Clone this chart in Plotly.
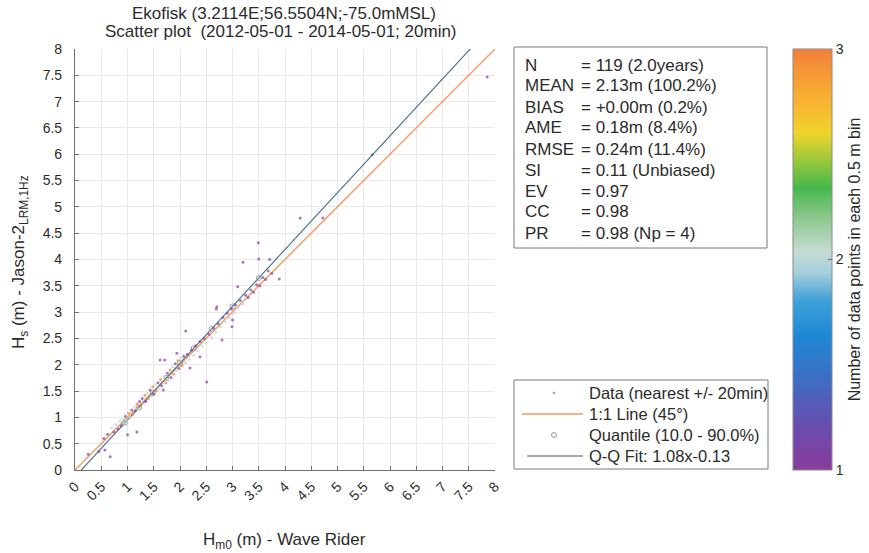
import plotly.graph_objects as go

# Observed (wave rider) and model (Jason-2) significant wave heights [m]
hm0_buoy = [
    0.25, 0.45, 0.57, 0.67, 1.00, 1.18, 2.51, 1.62, 1.71, 1.94, 2.11, 2.80, 2.19, 2.38,
    2.99, 3.00, 2.70, 2.69, 3.10, 3.20, 3.49, 3.50, 3.71, 3.89, 4.29, 4.72, 5.66, 7.85,
    0.55, 0.62, 0.70, 0.74, 0.78, 0.82, 0.85, 0.88, 0.90, 0.93, 0.96, 0.98, 1.02, 1.05,
    1.08, 1.10, 1.13, 1.15, 1.18, 1.20, 1.23, 1.25, 1.28, 1.30, 1.33, 1.35, 1.38, 1.40,
    1.43, 1.45, 1.48, 1.50, 1.53, 1.55, 1.58, 1.60, 1.63, 1.65, 1.68, 1.70, 1.73, 1.76,
    1.78, 1.81, 1.83, 1.86, 1.88, 1.91, 1.93, 1.96, 1.98, 2.01, 2.04, 2.07, 2.10, 2.14,
    2.18, 2.22, 2.26, 2.30, 2.34, 2.38, 2.42, 2.46, 2.50, 2.55, 2.60, 2.64, 2.68, 2.73,
    2.77, 2.82, 2.86, 2.90, 2.94, 2.98, 3.02, 3.06, 3.10, 3.15, 3.20, 3.25, 3.30, 3.35,
    3.40, 3.46, 3.52, 3.58, 3.63, 3.68, 3.75,
]
hs_jason = [
    0.30, 0.35, 0.38, 0.25, 0.67, 0.72, 1.67, 2.09, 2.09, 2.22, 2.64, 2.47, 1.94, 2.15,
    2.72, 2.85, 3.10, 3.06, 3.48, 3.95, 4.32, 4.01, 4.00, 3.63, 4.79, 4.79, 5.99, 7.47,
    0.60, 0.68, 0.80, 0.72, 0.86, 0.78, 0.92, 0.84, 0.97, 0.90, 1.02, 0.94, 1.08, 1.00,
    1.14, 1.05, 1.20, 1.12, 1.26, 1.16, 1.30, 1.22, 1.36, 1.26, 1.42, 1.30, 1.46, 1.36,
    1.52, 1.40, 1.58, 1.44, 1.62, 1.50, 1.66, 1.55, 1.72, 1.60, 1.52, 1.78, 1.66, 1.84,
    1.70, 1.90, 1.76, 1.96, 1.82, 2.02, 1.88, 2.08, 1.93, 2.12, 1.98, 2.16, 2.04, 2.20,
    2.10, 2.28, 2.18, 2.36, 2.26, 2.44, 2.36, 2.50, 2.42, 2.58, 2.52, 2.70, 2.62, 2.78,
    2.72, 2.90, 2.82, 2.98, 2.90, 3.06, 2.98, 3.14, 3.08, 3.22, 3.16, 3.32, 3.28, 3.42,
    3.38, 3.52, 3.50, 3.66, 3.62, 3.78, 3.74,
]
# Number of data points in each 0.5 m bin (colour value per point)
bin_count = [
    1, 1, 1, 1, 1, 1, 1, 1, 1, 1, 1, 1, 1, 1,
    1, 1, 1, 1, 1, 1, 1, 1, 1, 1, 1, 1, 1, 1,
    1, 1, 2, 1, 2, 1, 2, 1, 2, 2, 1, 2, 3, 2,
    1, 3, 2, 1, 3, 2, 1, 3, 1, 2, 3, 1, 2, 3,
    1, 2, 3, 1, 2, 3, 1, 2, 3, 1, 1, 2, 3, 1,
    2, 3, 1, 2, 3, 1, 2, 3, 1, 2, 3, 1, 2, 1,
    2, 1, 2, 1, 2, 1, 2, 1, 2, 1, 2, 1, 2, 1,
    2, 1, 2, 1, 2, 1, 2, 1, 2, 1, 2, 1, 1, 1,
    1, 1, 1, 1, 1, 1, 1,
]

# Quantiles 10 % .. 90 %
q_buoy = [0.95, 1.22, 1.48, 1.74, 2.00, 2.26, 2.60, 3.00, 3.50]
q_jason = [0.90, 1.19, 1.47, 1.75, 2.03, 2.31, 2.68, 3.11, 3.65]

# Q-Q fit parameters
qq_slope = 1.08
qq_offset = -0.13

stats_labels = ["N", "MEAN", "BIAS", "AME", "RMSE", "SI", "EV", "CC", "PR"]
stats_values = [
    "= 119 (2.0years)", "= 2.13m (100.2%)", "= +0.00m (0.2%)", "= 0.18m (8.4%)",
    "= 0.24m (11.4%)", "= 0.11 (Unbiased)", "= 0.97", "= 0.98", "= 0.98 (Np = 4)",
]
legend_labels = ["Data (nearest +/- 20min)", "1:1 Line (45°)",
                 "Quantile (10.0 - 90.0%)", "Q-Q Fit: 1.08x-0.13"]

tick_vals = [i * 0.5 for i in range(17)]
tick_text = ["0", "0.5", "1", "1.5", "2", "2.5", "3", "3.5", "4", "4.5",
             "5", "5.5", "6", "6.5", "7", "7.5", "8"]

W, H = 869, 553
L, R, T, B = 75, 495, 49, 470          # plot area in pixels
PW, PH = R - L, B - T
FONT = "Liberation Sans, Arial, sans-serif"
TXT = "#2b2b2b"
ORANGE = "#f29b62"
QQ = "#4d7890"

def px(x):
    return (x - L) / PW

def py(y):
    return (B - y) / PH

colorscale = [
    [0.00, "#8a3c9c"], [0.10, "#6a4cae"], [0.22, "#3c6fc4"], [0.32, "#1e88d4"],
    [0.40, "#3da0d8"], [0.47, "#a6cfdc"], [0.52, "#c6dcd4"], [0.60, "#8cc78c"],
    [0.67, "#45b84b"], [0.74, "#a0c93a"], [0.80, "#f0d42a"], [0.88, "#f8b132"],
    [1.00, "#f2803a"],
]

fig = go.Figure()

# 1:1 line
fig.add_trace(go.Scatter(x=[0, 8], y=[0, 8], mode="lines",
                         line=dict(color=ORANGE, width=1.4), showlegend=False,
                         hoverinfo="skip"))
# Q-Q fit line
fit_x = [0, 8]
fit_y = [qq_slope * v + qq_offset for v in fit_x]
fig.add_trace(go.Scatter(x=fit_x, y=fit_y, mode="lines",
                         line=dict(color=QQ, width=1.2), showlegend=False,
                         hoverinfo="skip"))
# Quantiles
fig.add_trace(go.Scatter(x=q_buoy, y=q_jason, mode="markers",
                         marker=dict(symbol="circle-open", size=5, color="#9a9a9a",
                                     line=dict(width=1)),
                         showlegend=False))
# Data points coloured by bin count
fig.add_trace(go.Scatter(
    x=hm0_buoy, y=hs_jason, mode="markers", showlegend=False,
    marker=dict(
        size=3, color=bin_count, cmin=1, cmax=3, colorscale=colorscale,
        opacity=0.7,
        colorbar=dict(
            x=px(793), xanchor="left", y=1, yanchor="top", xpad=0, ypad=0,
            lenmode="pixels", len=PH, thickness=39, thicknessmode="pixels",
            outlinecolor="#8a8a8a", outlinewidth=1,
            tickvals=[1, 2, 3], ticktext=["1", "2", "3"],
            ticks="inside", ticklen=4, tickcolor="#666",
            tickfont=dict(family=FONT, size=14, color=TXT),
            title=dict(text="Number of data points in each 0.5 m bin",
                       side="right", font=dict(family=FONT, size=16, color=TXT)),
        ),
    ),
))

axis_common = dict(
    range=[0, 8], tickvals=tick_vals, ticktext=tick_text,
    showgrid=True, gridcolor="#e8e8e8", gridwidth=1,
    zeroline=False, showline=True, linecolor="#6e6e6e", linewidth=1.2,
    ticks="inside", ticklen=4, tickcolor="#6e6e6e",
    tickfont=dict(family=FONT, size=14, color=TXT), fixedrange=True,
)
fig.update_xaxes(**axis_common, tickangle=-45, ticklabelstandoff=2)
fig.update_yaxes(**axis_common, ticklabelstandoff=9)

ann = []
shapes = []

def note(text, x, y, size=17, **kw):
    d = dict(text=text, x=px(x), y=py(y), xref="paper", yref="paper",
             xanchor="center", yanchor="middle",
             showarrow=False, font=dict(family=FONT, size=size, color=TXT))
    d.update(kw)
    ann.append(d)

# Titles
note("Ekofisk (3.2114E;56.5504N;-75.0mMSL)", 284, 14)
note("Scatter plot  (2012-05-01 - 2014-05-01; 20min)", 281, 31)
# Axis titles
note("H<sub>m0</sub> (m) - Wave Rider", 284, 541)
note("H<sub>s</sub> (m) - Jason-2<sub>LRM,1Hz</sub>", 20, 262, textangle=-90)

# Statistics box
shapes.append(dict(type="rect", xref="paper", yref="paper",
                   x0=px(514), x1=px(767), y0=py(248), y1=py(47),
                   line=dict(color="#7a7a7a", width=1), fillcolor="white"))
for i, (lab, val) in enumerate(zip(stats_labels, stats_values)):
    yy = 65 + i * 21.0
    note(lab, 523, yy, xanchor="left")
    note(val, 579, yy, xanchor="left")

# Legend box
shapes.append(dict(type="rect", xref="paper", yref="paper",
                   x0=px(514), x1=px(768), y0=py(469), y1=py(380),
                   line=dict(color="#7a7a7a", width=1), fillcolor="white"))
leg_y = [393, 414, 435, 456]
for lab, yv in zip(legend_labels, leg_y):
    note(lab, 587, yv, size=16.5, xanchor="left")
shapes.append(dict(type="line", xref="paper", yref="paper",
                   x0=px(522), x1=px(583), y0=py(414), y1=py(414),
                   line=dict(color=ORANGE, width=1.4)))
shapes.append(dict(type="line", xref="paper", yref="paper",
                   x0=px(527), x1=px(583), y0=py(456), y1=py(456),
                   line=dict(color="#555555", width=1.2)))
shapes.append(dict(type="circle", xref="paper", yref="paper",
                   x0=px(553), x1=px(555), y0=py(394), y1=py(392),
                   line=dict(color="#b0a0b8", width=1), fillcolor="#b0a0b8"))
shapes.append(dict(type="circle", xref="paper", yref="paper",
                   x0=px(551.5), x1=px(556.5), y0=py(437.5), y1=py(432.5),
                   line=dict(color="#9a9a9a", width=1)))

fig.update_layout(
    width=W, height=H,
    margin=dict(l=L, r=W - R, t=T, b=H - B, pad=0, autoexpand=False),
    paper_bgcolor="white", plot_bgcolor="white",
    font=dict(family=FONT, size=13, color=TXT),
    annotations=ann, shapes=shapes, showlegend=False,
)

fig.write_html("out.html")
